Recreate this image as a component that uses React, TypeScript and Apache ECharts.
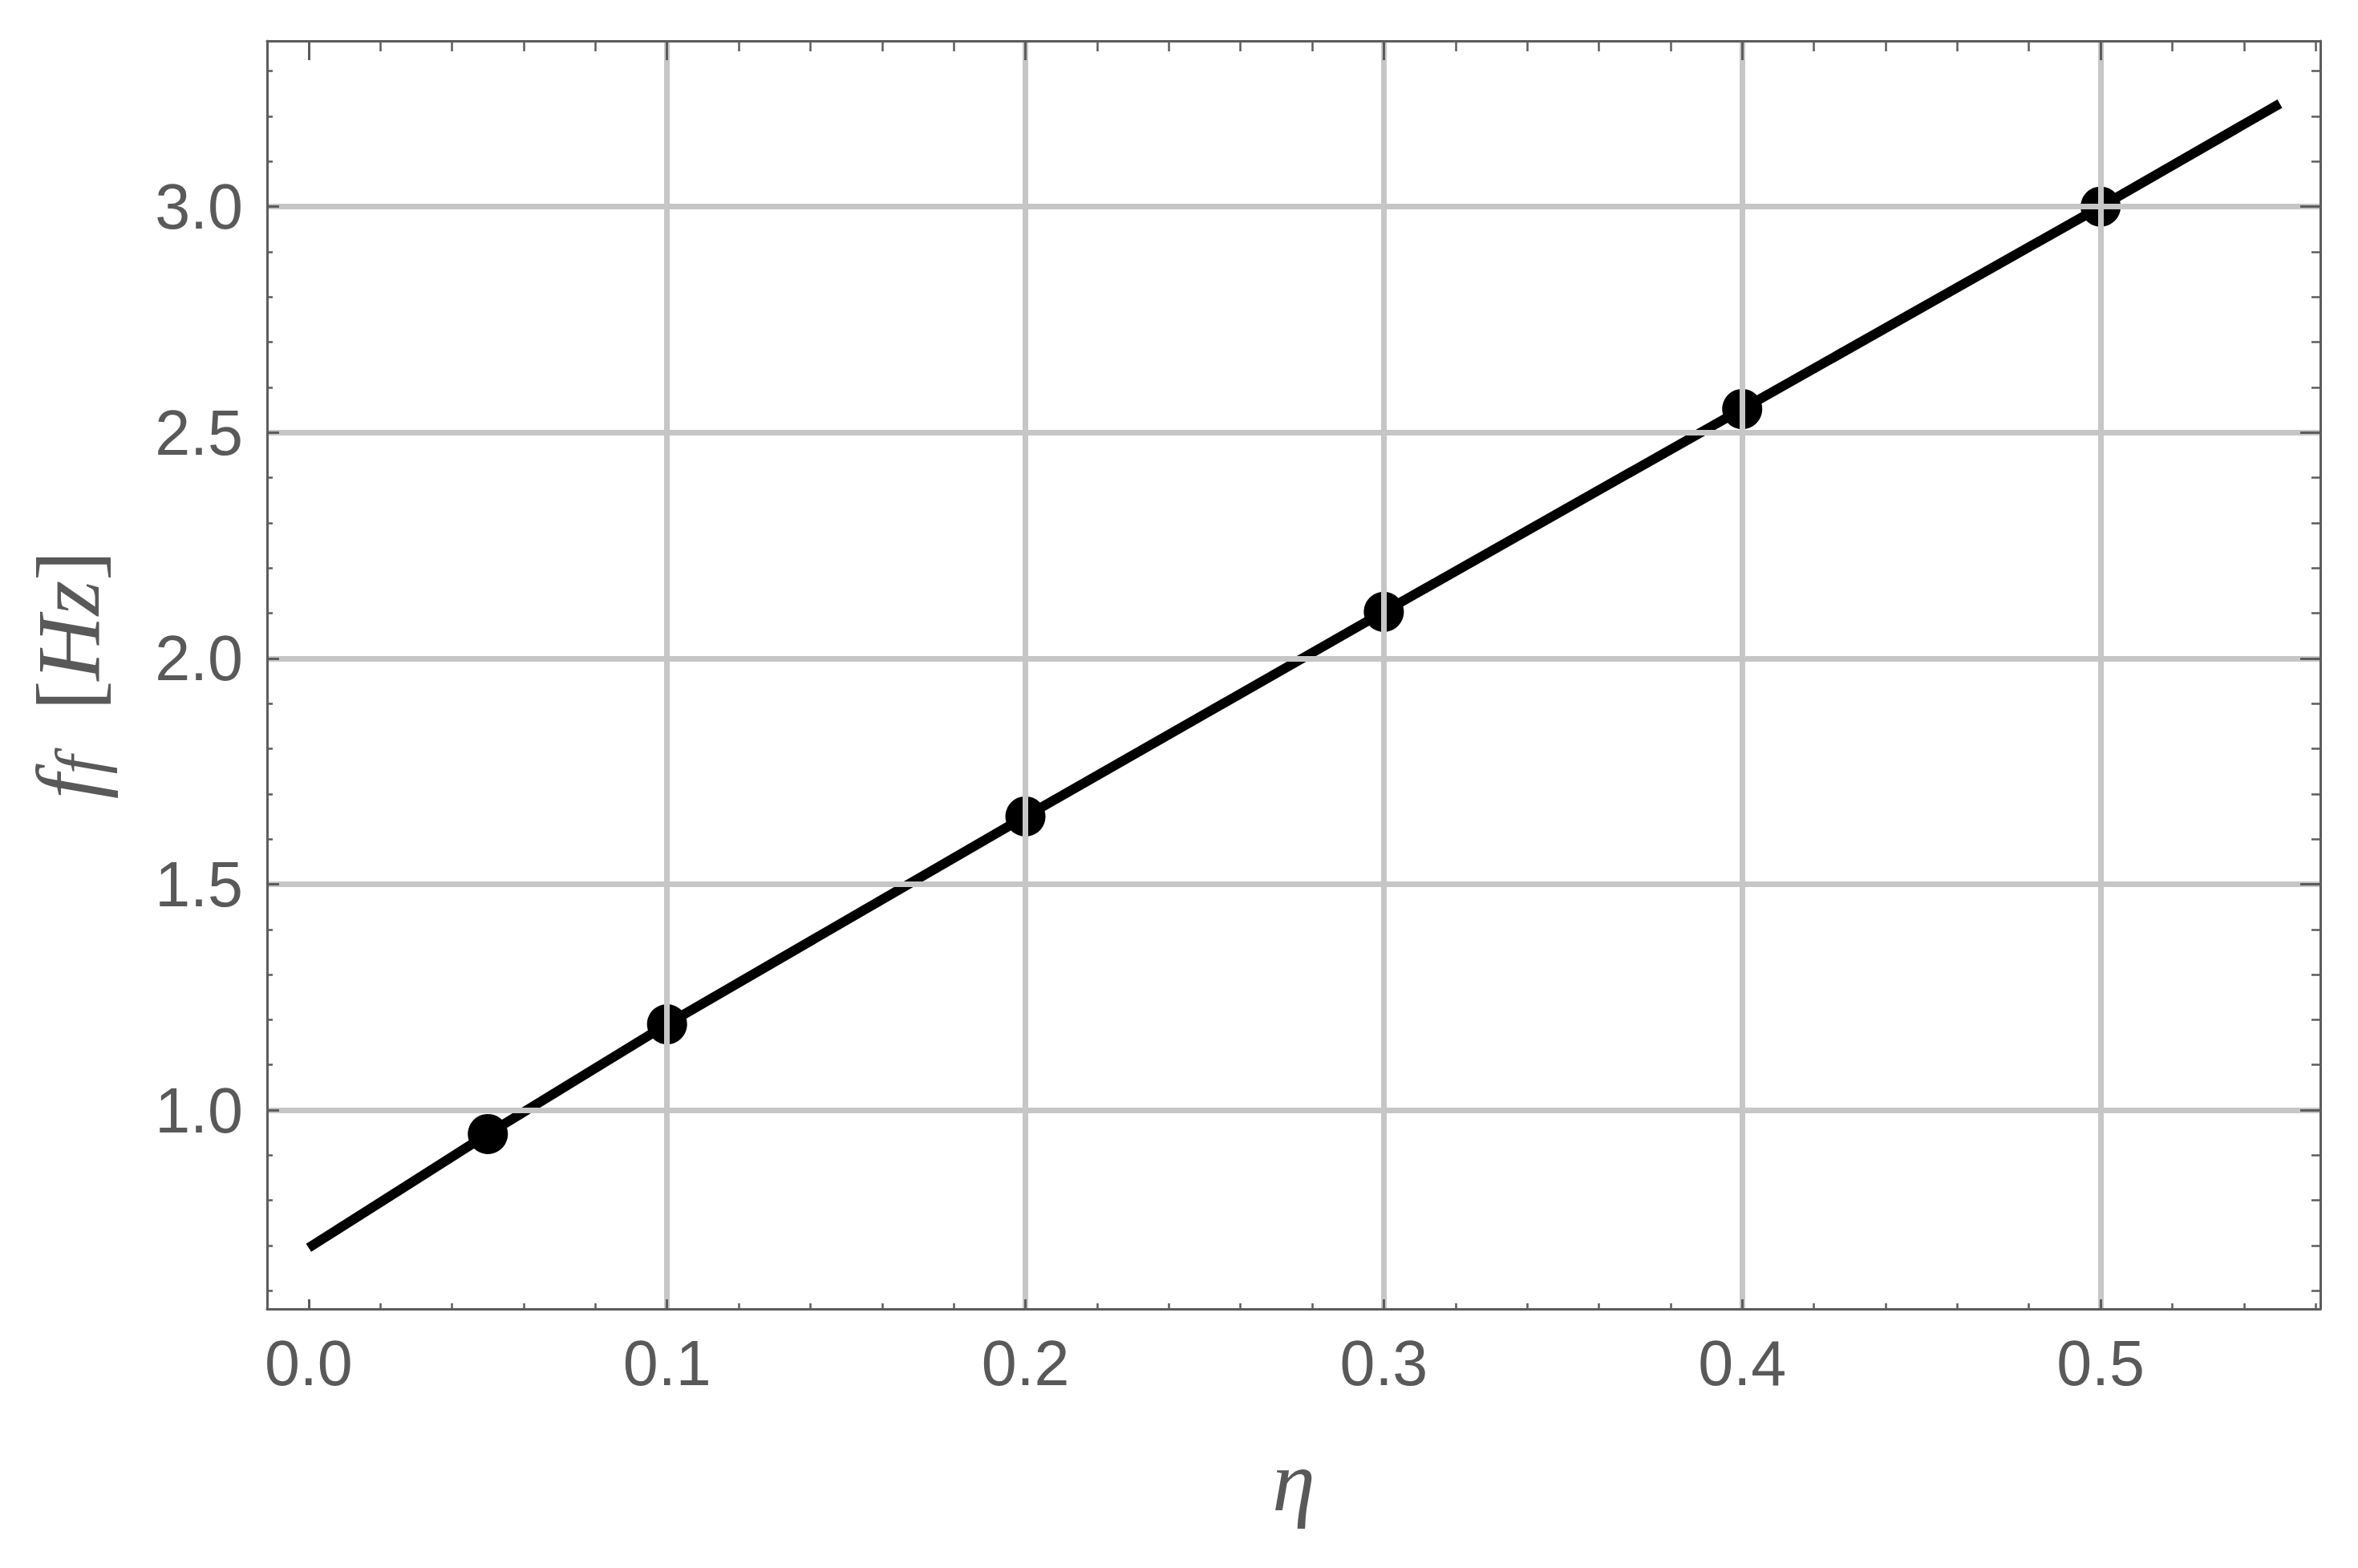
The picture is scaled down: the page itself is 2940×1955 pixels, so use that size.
import React, { useEffect, useRef } from "react";
import * as echarts from "echarts";

// Measured data points (eta, f_f in Hz)
const etaPoints = [0.05, 0.1, 0.2, 0.3, 0.4, 0.5];
const freqPoints = [0.947, 1.19, 1.65, 2.103, 2.552, 3.0];
// Drawn curve through the points, extended to 0 and 0.55
const curveEta = [0, 0.05, 0.1, 0.2, 0.3, 0.4, 0.5, 0.55];
const curveFreq = [0.695, 0.947, 1.19, 1.65, 2.103, 2.552, 3.0, 3.228];
// Grid lines
const gridEta = [0.1, 0.2, 0.3, 0.4, 0.5];
const gridFreq = [1.0, 1.5, 2.0, 2.5, 3.0];

const X_MIN = -0.0116;
const X_MAX = 0.5613;
const Y_MIN = 0.5597;
const Y_MAX = 3.367;

const FRAME = "#5c5c5c";
const TEXT = "#595959";
const GRID = "#c6c6c6";

export default function App() {
  const ref = useRef<HTMLDivElement>(null);
  useEffect(() => {
    document.body.style.margin = "0";
    if (!ref.current) return;
    const chart = echarts.init(ref.current, undefined, { renderer: "svg" });

    const axisLineStyle = { color: FRAME, width: 3 };
    const xFmt = (v: number) =>
      Math.abs(v * 10 - Math.round(v * 10)) < 1e-6 ? v.toFixed(1) : "";
    const yFmt = (v: number) =>
      Math.abs(v * 2 - Math.round(v * 2)) < 1e-6 ? v.toFixed(1) : "";
    const labelFont = {
      fontFamily: "Liberation Sans, Arial, sans-serif",
      fontSize: 79,
      color: TEXT,
    };
    const serif = "Liberation Serif, Times New Roman, serif";

    const baseX = {
      type: "value",
      min: X_MIN,
      max: X_MAX,
      splitNumber: 6,
      minInterval: 0.1,
      maxInterval: 0.1,
      z: 10,
      axisLine: { show: true, onZero: false, lineStyle: axisLineStyle },
      splitLine: { show: false },
    };
    const baseY = {
      type: "value",
      min: Y_MIN,
      max: Y_MAX,
      splitNumber: 6,
      minInterval: 0.5,
      maxInterval: 0.5,
      z: 10,
      axisLine: { show: true, onZero: false, lineStyle: axisLineStyle },
      splitLine: { show: false },
    };

    chart.setOption({
      animation: false,
      backgroundColor: "#ffffff",
      grid: {
        left: 333,
        top: 51,
        right: 47,
        bottom: 323,
        containLabel: false,
        outerBoundsMode: "none",
      },
      xAxis: [
        {
          ...baseX,
          position: "bottom",
          name: "η",
          nameLocation: "middle",
          nameGap: 160,
          nameTextStyle: {
            fontFamily: serif,
            fontStyle: "italic",
            fontSize: 108,
            color: TEXT,
          },
          axisTick: { show: true, inside: true, length: 12, lineStyle: { color: FRAME, width: 3 } },
          minorTick: { show: true, splitNumber: 5, length: 7, lineStyle: { color: FRAME, width: 2.5 } },
          axisLabel: { ...labelFont, margin: 28, formatter: xFmt },
        },
        {
          ...baseX,
          position: "top",
          axisTick: { show: true, inside: true, length: 24, lineStyle: { color: FRAME, width: 3 } },
          minorTick: { show: true, splitNumber: 5, length: 13, lineStyle: { color: FRAME, width: 2.5 } },
          axisLabel: { show: false },
        },
      ],
      yAxis: [
        {
          ...baseY,
          position: "left",
          name: "{i|f}{s|f}{n|  [}{i|Hz}{n|]}",
          nameLocation: "middle",
          nameRotate: 90,
          nameGap: 192,
          nameTextStyle: {
            color: TEXT,
            rich: {
              i: { fontFamily: serif, fontStyle: "italic", fontSize: 112, lineHeight: 112, color: TEXT },
              s: {
                fontFamily: serif,
                fontStyle: "italic",
                fontSize: 84,
                lineHeight: 52,
                verticalAlign: "bottom",
                color: TEXT,
              },
              n: { fontFamily: serif, fontSize: 112, lineHeight: 112, color: TEXT },
            },
          },
          axisTick: { show: true, inside: true, length: 15, lineStyle: { color: FRAME, width: 3 } },
          minorTick: { show: true, splitNumber: 5, length: 7, lineStyle: { color: FRAME, width: 2.5 } },
          axisLabel: { ...labelFont, margin: 30, formatter: yFmt },
        },
        {
          ...baseY,
          position: "right",
          axisTick: { show: true, inside: true, length: 25, lineStyle: { color: FRAME, width: 3 } },
          minorTick: { show: true, splitNumber: 5, length: 11, lineStyle: { color: FRAME, width: 2.5 } },
          axisLabel: { show: false },
        },
      ],
      series: [
        {
          type: "line",
          name: "grid",
          z: 1,
          silent: true,
          xAxisIndex: 0,
          yAxisIndex: 0,
          data: etaPoints.map((x, i) => [x, freqPoints[i]]),
          showSymbol: false,
          symbol: "none",
          lineStyle: { opacity: 0, width: 0 },
          markLine: {
            silent: true,
            animation: false,
            symbol: ["none", "none"],
            label: { show: false },
            emphasis: { disabled: true },
            lineStyle: { color: GRID, width: 7, type: "solid", opacity: 1 },
            data: [
              ...gridEta.map((v) => ({ xAxis: v })),
              ...gridFreq.map((v) => ({ yAxis: v })),
            ],
          },
        },
        {
          type: "line",
          name: "curve",
          z: 3,
          silent: true,
          xAxisIndex: 0,
          yAxisIndex: 0,
          data: curveEta.map((x, i) => [x, curveFreq[i]]),
          showSymbol: false,
          symbol: "none",
          lineStyle: { color: "#000000", width: 12, cap: "butt" },
        },
        {
          type: "scatter",
          name: "points",
          z: 4,
          silent: true,
          xAxisIndex: 0,
          yAxisIndex: 0,
          data: etaPoints.map((x, i) => [x, freqPoints[i]]),
          symbol: "circle",
          symbolSize: 50,
          itemStyle: { color: "#000000", opacity: 1 },
        },
      ],
    });

    return () => {
      chart.dispose();
    };
  }, []);

  return <div ref={ref} style={{ width: 2940, height: 1955 }} />;
}
